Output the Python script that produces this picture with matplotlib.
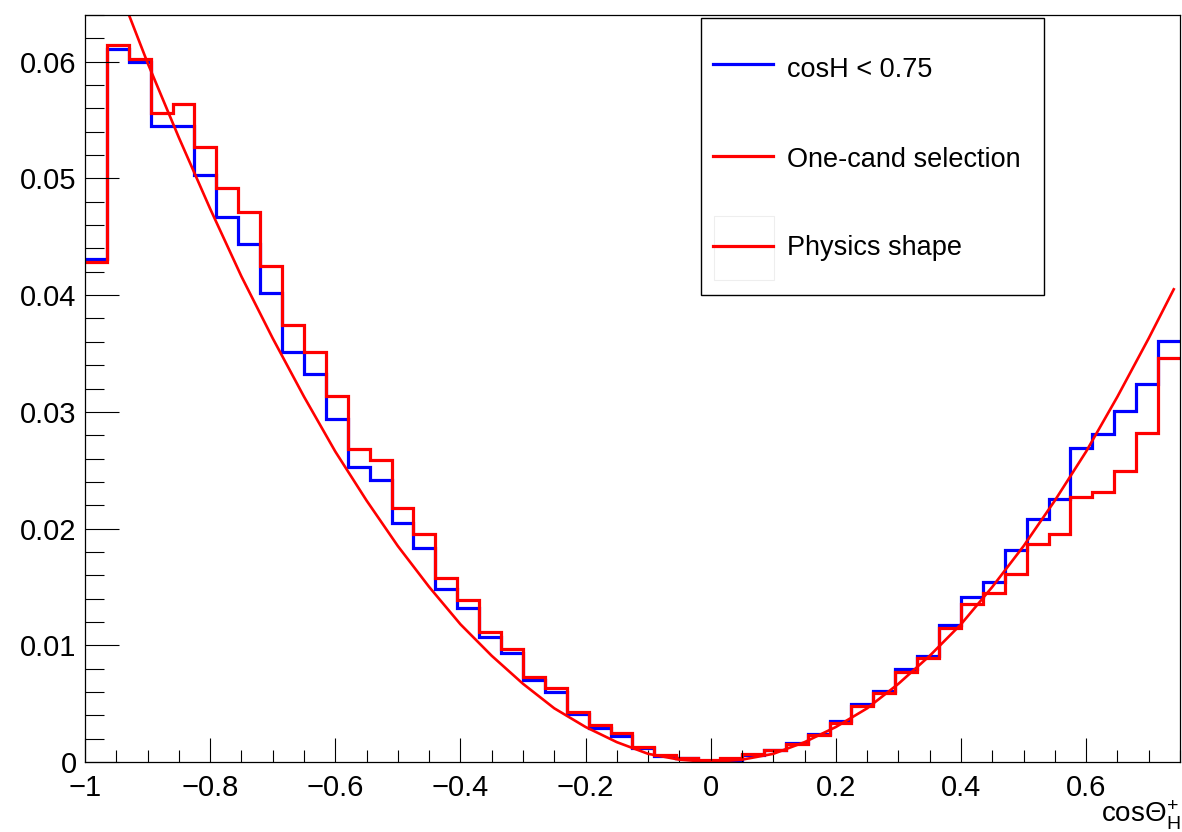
import matplotlib

matplotlib.use("Agg")
import matplotlib.pyplot as plt
import numpy as np
from matplotlib.lines import Line2D
from matplotlib.patches import Rectangle

plt.rcParams["font.family"] = ["Liberation Sans", "DejaVu Sans"]
plt.rcParams["mathtext.fontset"] = "custom"
plt.rcParams["mathtext.rm"] = "Liberation Sans"
plt.rcParams["mathtext.it"] = "Liberation Sans:italic"

# 50 bins of width 0.035 from -1 to 0.75
bin_edges = np.linspace(-1.0, 0.75, 51)

cosh_cut = [
    0.0431, 0.0611, 0.0600, 0.0545, 0.0545, 0.0503, 0.0467, 0.0444, 0.0402, 0.0351,
    0.0332, 0.0294, 0.0253, 0.0242, 0.0205, 0.0183, 0.0148, 0.0132, 0.0107, 0.0093,
    0.0070, 0.0060, 0.0041, 0.0029, 0.0022, 0.0012, 0.0005, 0.0003, 0.0001, 0.0002,
    0.0006, 0.0010, 0.0016, 0.0024, 0.0035, 0.0050, 0.0061, 0.0080, 0.0091, 0.0117,
    0.0141, 0.0154, 0.0182, 0.0208, 0.0225, 0.0269, 0.0281, 0.0301, 0.0324, 0.0361,
]
one_cand = [
    0.0428, 0.0614, 0.0602, 0.0556, 0.0564, 0.0527, 0.0492, 0.0471, 0.0425, 0.0374,
    0.0351, 0.0314, 0.0268, 0.0259, 0.0218, 0.0195, 0.0158, 0.0139, 0.0111, 0.0097,
    0.0073, 0.0063, 0.0043, 0.0032, 0.0025, 0.0013, 0.0006, 0.0003, 0.0002, 0.0003,
    0.0007, 0.0010, 0.0015, 0.0023, 0.0033, 0.0048, 0.0059, 0.0077, 0.0089, 0.0115,
    0.0135, 0.0145, 0.0161, 0.0187, 0.0195, 0.0227, 0.0231, 0.0249, 0.0282, 0.0346,
]

# physics shape
shape_x = [
    -0.95, -0.90, -0.85, -0.80, -0.75, -0.70, -0.65, -0.60, -0.55, -0.50, -0.45, -0.40,
    -0.35, -0.30, -0.25, -0.20, -0.15, -0.10, -0.05, 0.00, 0.05, 0.10, 0.15, 0.20,
    0.25, 0.30, 0.35, 0.40, 0.45, 0.50, 0.55, 0.60, 0.65, 0.70, 0.74,
]
shape_y = [
    0.0668, 0.0599, 0.0535, 0.0474, 0.0416, 0.0363, 0.0313, 0.0266, 0.0224, 0.0185,
    0.0150, 0.0118, 0.0091, 0.0067, 0.0046, 0.0030, 0.0017, 0.0007, 0.0002, 0.0000,
    0.0002, 0.0007, 0.0017, 0.0030, 0.0046, 0.0067, 0.0091, 0.0118, 0.0150, 0.0185,
    0.0224, 0.0266, 0.0313, 0.0363, 0.0405,
]

labels = ["cosH < 0.75", "One-cand selection", "Physics shape"]
colors = ["#0000ff", "#ff0000", "#ff0000"]

W, H = 1182, 832
fig = plt.figure(figsize=(W / 100, H / 100), dpi=100)
ax = fig.add_axes([85 / W, 1 - 762 / H, (1180 - 85) / W, (762 - 15) / H])

ax.stairs(cosh_cut, bin_edges, color=colors[0], linewidth=2.3, baseline=None)
ax.stairs(one_cand, bin_edges, color=colors[1], linewidth=2.3, baseline=None)
ax.plot(shape_x, shape_y, color=colors[2], linewidth=1.9)

ax.set_xlim(-1.0, 0.75)
ax.set_ylim(0, 0.064)
ax.set_xticks(np.arange(-1.0, 0.75, 0.2))
ax.set_xticks(np.arange(-1.0, 0.76, 0.05), minor=True)
ax.set_yticks(np.arange(0, 0.061, 0.01))
ax.set_yticks(np.arange(0, 0.0641, 0.002), minor=True)
ax.set_xticklabels(["\u22121", "\u22120.8", "\u22120.6", "\u22120.4", "\u22120.2",
                    "0", "0.2", "0.4", "0.6"])
ax.set_yticklabels(["0", "0.01", "0.02", "0.03", "0.04", "0.05", "0.06"])

ax.tick_params(which="both", direction="in", top=False, right=False,
               width=0.8, labelsize=21)
ax.xaxis.set_tick_params(which="major", length=17.3, pad=9)
ax.xaxis.set_tick_params(which="minor", length=8.6)
ax.yaxis.set_tick_params(which="major", length=24.5, pad=6)
ax.yaxis.set_tick_params(which="minor", length=13.5)
for s in ax.spines.values():
    s.set_linewidth(0.9)

fig.text(1181 / W, 1 - 822 / H, r"cos$\Theta^{+}_{\mathrm{H}}$", ha="right",
         va="baseline", fontsize=20)

# legend box drawn in pixel coordinates
lg = fig.add_axes([700 / W, 1 - 295 / H, 344 / W, 278 / H])
lg.set_xlim(700, 1044)
lg.set_ylim(295, 17)
lg.axis("off")
lg.add_patch(Rectangle((700.5, 17.5), 343, 277, fill=False, edgecolor="black",
                       linewidth=1.0, clip_on=False))
lg.add_patch(Rectangle((714, 216), 60, 64, fill=False, edgecolor="#eeeeee",
                       linewidth=0.8))
line_y = [63.5, 155.7, 246]
text_y = [77, 167, 255]
for lab, col, ly, ty in zip(labels, colors, line_y, text_y):
    lg.add_line(Line2D([713, 773], [ly, ly], color=col, linewidth=2.3))
    lg.text(787, ty, lab, fontsize=19.5, ha="left", va="baseline")

fig.savefig("out.png", dpi=100)
